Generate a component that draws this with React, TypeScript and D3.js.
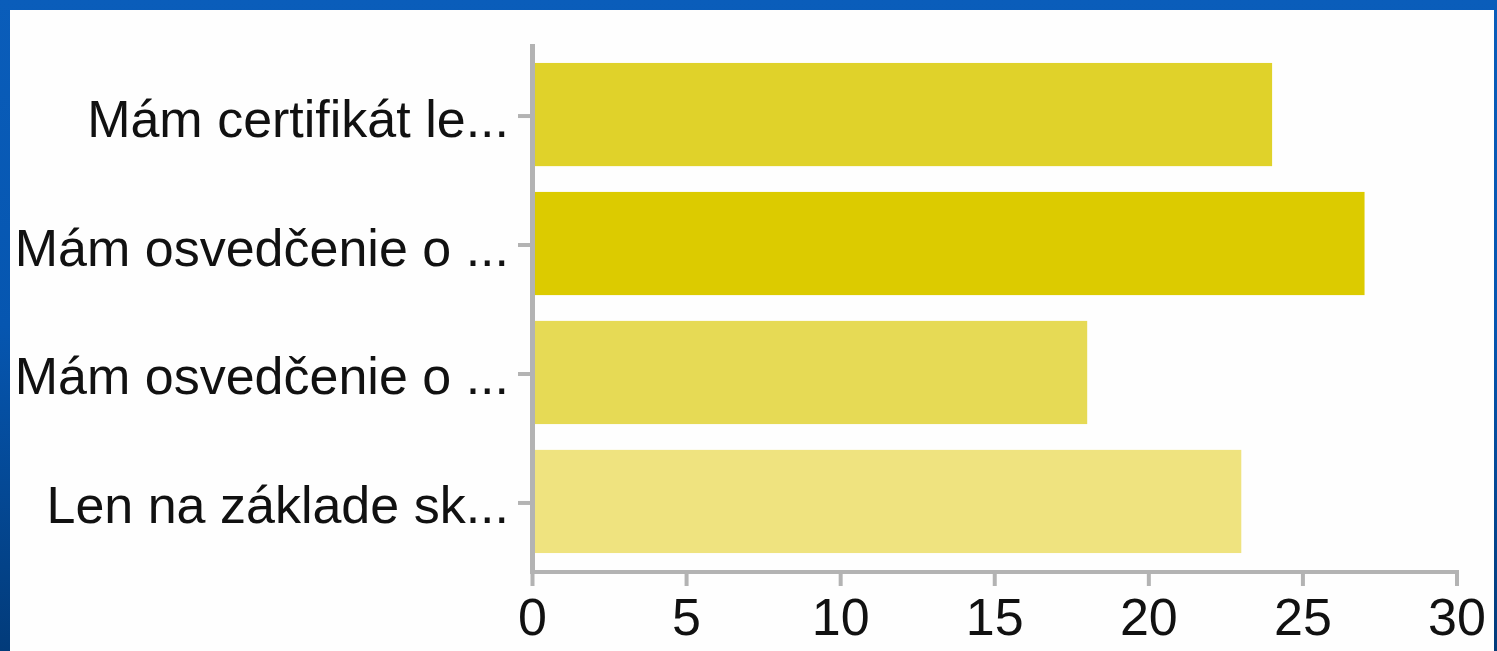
import React from "react";
import * as d3 from "d3";

const categories = [
  "Mám certifikát le...",
  "Mám osvedčenie o ...",
  "Mám osvedčenie o ...",
  "Len na základe sk...",
];
const values = [24, 27, 18, 23];
const barColors = ["#e0d22a", "#dccb00", "#e6da55", "#efe37f"];
const xTicks = [0, 5, 10, 15, 20, 25, 30];

const W = 1497;
const H = 651;

export default function App() {
  const x = d3.scaleLinear().domain([0, 30]).range([532.5, 1457]);
  const y = d3
    .scaleBand<number>()
    .domain(d3.range(categories.length))
    .range([44, 572])
    .paddingInner(0.2)
    .paddingOuter(0.147);
  const axisColor = "#b3b3b3";
  const font = "'Liberation Sans', Arial, sans-serif";

  return (
    <svg
      width={W}
      height={H}
      style={{ position: "absolute", left: 0, top: 0, display: "block" }}
    >
      <defs>
        <linearGradient id="bg" x1="0" y1="0" x2="0" y2="1">
          <stop offset="0" stopColor="#0a5dba" />
          <stop offset="0.5" stopColor="#0656b0" />
          <stop offset="1" stopColor="#023b7a" />
        </linearGradient>
      </defs>
      <rect x={0} y={0} width={W} height={H} fill="url(#bg)" />
      <rect x={10} y={10} width={1484} height={H - 10} fill="#fefefe" />

      {values.map((v, i) => (
        <rect
          key={i}
          x={x(0) + 2.5}
          y={y(i)!}
          width={x(v) - x(0) - 2.5}
          height={y.bandwidth()}
          fill={barColors[i]}
        />
      ))}

      {/* y axis */}
      <line x1={x(0)} x2={x(0)} y1={44} y2={574} stroke={axisColor} strokeWidth={5} />
      {categories.map((c, i) => {
        const cy = y(i)! + y.bandwidth() / 2;
        return (
          <g key={i}>
            <line x1={518} x2={x(0)} y1={cy + 1.5} y2={cy + 1.5} stroke={axisColor} strokeWidth={4} />
            <text
              x={509}
              y={cy + 22}
              textAnchor="end"
              fontFamily={font}
              fontSize={52}
              fill="#111"
            >
              {c}
            </text>
          </g>
        );
      })}

      {/* x axis */}
      <line x1={x(0) - 2.5} x2={x(30) + 2} y1={572} y2={572} stroke={axisColor} strokeWidth={4} />
      {xTicks.map((t) => (
        <g key={t}>
          <line x1={x(t)} x2={x(t)} y1={572} y2={586} stroke={axisColor} strokeWidth={4} />
          <text
            x={x(t)}
            y={635}
            textAnchor="middle"
            fontFamily={font}
            fontSize={52}
            fill="#111"
          >
            {t}
          </text>
        </g>
      ))}
    </svg>
  );
}
